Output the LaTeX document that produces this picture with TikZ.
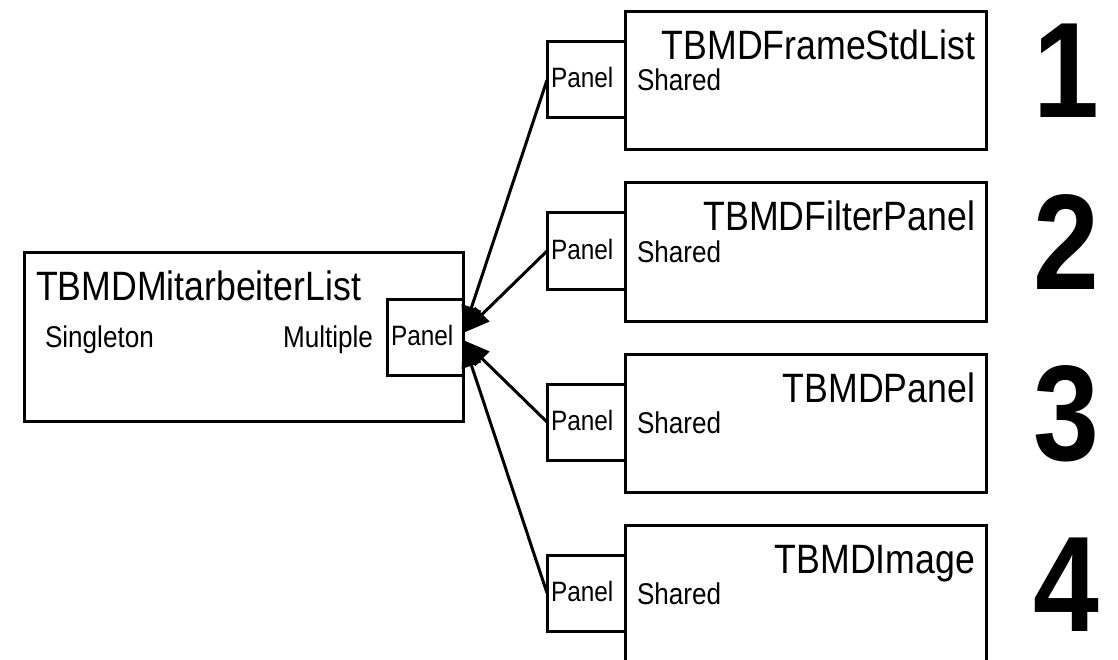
\documentclass[tikz,border=0pt]{standalone}
\usepackage{fontspec}
\setmainfont{Liberation Sans}[FakeStretch=0.87]
\usetikzlibrary{arrows.meta}

\begin{document}
\begin{tikzpicture}[x=1pt, y=-1pt]
\tikzset{ >={Triangle[length=27pt,width=20pt]}, inner sep=0pt, outer sep=0pt,
  box/.style={draw, line width=3pt, anchor=north west, fill=white},
  title/.style={font=\fontsize{41}{46}\selectfont},
  label/.style={font=\fontsize{30}{34}\selectfont},
  port/.style={font=\fontsize{28}{32}\selectfont, anchor=base west},
  num/.style={font=\fontsize{136}{150}\selectfont\bfseries, anchor=base},
  link/.style={->, line width=3pt},
}
\useasboundingbox (0,0) rectangle (1118,660);

\node [box, minimum width=439pt, minimum height=168pt] (M)  at (24,253) {};
\node [box, minimum width=76pt,  minimum height=76pt]  (MP) at (387,299) {};

\node [box, minimum width=361pt, minimum height=138pt] (F) at (625,12)  {};
\node [box, minimum width=361pt, minimum height=138pt] (P) at (625,183) {};
\node [box, minimum width=361pt, minimum height=138pt] (B) at (625,354) {};
\node [box, minimum width=361pt, minimum height=138pt] (I) at (625,525) {};

\node [box, minimum width=78pt, minimum height=76pt] (FP) at (547,42)  {};
\node [box, minimum width=78pt, minimum height=76pt] (PP) at (547,213) {};
\node [box, minimum width=78pt, minimum height=76pt] (BP) at (547,384) {};
\node [box, minimum width=78pt, minimum height=76pt] (IP) at (547,555) {};

\node [title, anchor=base west] (MT) at (36,300)  {TBMDMitarbeiterList};
\node [label, anchor=base west] (MS) at (45,347)  {Singleton};
\node [label, anchor=base east] (MM) at (373,347) {Multiple};
\node [port] (MPT) at (391,345) {Panel};

\node [title, anchor=base east] (FT) at (975,60)  {TBMDFrameStdList};
\node [title, anchor=base east] (PT) at (975,231) {TBMDFilterPanel};
\node [title, anchor=base east] (BT) at (975,402) {TBMDPanel};
\node [title, anchor=base east] (IT) at (975,573) {TBMDImage};

\node [label, anchor=base west] (FS) at (637,91)  {Shared};
\node [label, anchor=base west] (PS) at (637,262) {Shared};
\node [label, anchor=base west] (BS) at (637,433) {Shared};
\node [label, anchor=base west] (IS) at (637,604) {Shared};

\node [port] (FPT) at (551,88)  {Panel};
\node [port] (PPT) at (551,259) {Panel};
\node [port] (BPT) at (551,430) {Panel};
\node [port] (IPT) at (551,601) {Panel};

\node [num] (N1) at (1066,118) {1};
\node [num] (N2) at (1066,289) {2};
\node [num] (N3) at (1066,460) {3};
\node [num] (N4) at (1066,631) {4};

\coordinate (U) at ([yshift=4pt]MP.east);
\coordinate (D) at ([yshift=-3pt]MP.east);

\draw [link] (FP.west) -- (U);
\draw [link] (PP.west) -- (U);
\draw [link] (BP.west) -- (D);
\draw [link] (IP.west) -- (D);

\end{tikzpicture}
\end{document}
